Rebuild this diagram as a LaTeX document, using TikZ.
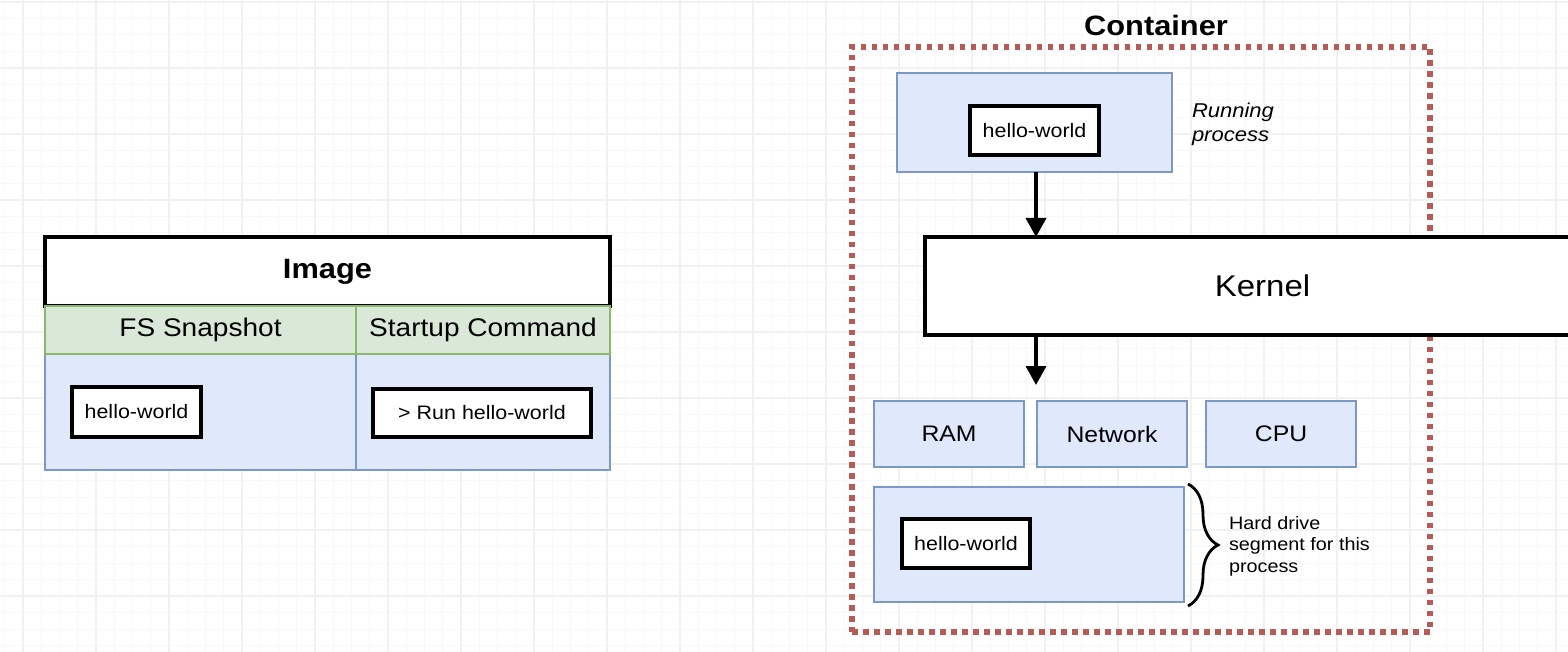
\documentclass[tikz,border=0pt]{standalone}
\usepackage{fontspec}
\setmainfont{Liberation Sans}[FakeStretch=1.1]
\usetikzlibrary{arrows.meta,decorations.pathreplacing}
\definecolor{bluefill}{HTML}{E0E9FC}
\definecolor{bluedraw}{HTML}{7C98C6}
\definecolor{greenfill}{HTML}{DAE8D7}
\definecolor{greendraw}{HTML}{8CB86E}
\definecolor{reddash}{HTML}{B85B57}
\definecolor{gridmajor}{HTML}{F1F1F1}
\definecolor{gridminor}{HTML}{F8F8F8}
\newcommand{\fsz}[1]{\fontsize{#1}{#1}\selectfont}
\tikzset{
  box/.style={rectangle, inner sep=0pt, outer sep=0pt, align=center},
  blackbox/.style={box, draw=black, line width=3.3pt, fill=white},
  bluebox/.style={box, draw=bluedraw, line width=2.8pt, fill=bluefill},
  greenbox/.style={box, draw=greendraw, line width=2.8pt, fill=greenfill},
  dashbox/.style={box, draw=reddash, line width=5.5pt, dash pattern=on 5.5pt off 5.5pt},
  arr/.style={line width=3.5pt, -{Triangle[width=20pt,length=19pt]}},
  bracestyle/.style={line width=2.8pt, decorate, decoration={brace, amplitude=30pt}},
}
\begin{document}
\begin{tikzpicture}[x=1pt,y=-1pt]
\clip (0,0) rectangle (1568,652);
\fill[white] (0,0) rectangle (1568,652);
% grid
\foreach \k in {0,...,86} {\pgfmathsetmacro\xx{4.75+18.25*\k}\draw[gridminor, line width=1pt] (\xx,0) -- (\xx,652);}
\foreach \k in {0,...,40} {\pgfmathsetmacro\yy{2+16.5*\k}\draw[gridminor, line width=1pt] (0,\yy) -- (1568,\yy);}
\foreach \k in {0,...,22} {\pgfmathsetmacro\xx{23+73*\k}\draw[gridmajor, line width=1.2pt] (\xx,0) -- (\xx,652);}
\foreach \k in {0,...,10} {\pgfmathsetmacro\yy{2+66*\k}\draw[gridmajor, line width=1.2pt] (0,\yy) -- (1568,\yy);}

% ---- Image ----
\node[blackbox, minimum width=565, minimum height=69, font=\fsz{28}\bfseries] (imghead) at (327.5,271.5) {Image};
\node[bluebox, minimum width=311, minimum height=116] (fsbody) at (200.5,412) {};
\node[bluebox, minimum width=254, minimum height=116] (scbody) at (483,412) {};
\node[greenbox, minimum width=311, minimum height=48, font=\fsz{25.5}] (fs) at (200.5,330) {FS Snapshot};
\node[greenbox, minimum width=254, minimum height=48, font=\fsz{25.5}] (sc) at (483,330) {Startup Command};
\node[blackbox, minimum width=129, minimum height=50, font=\fsz{19.5}] (hw0) at (136.5,412) {hello-world};
\node[blackbox, minimum width=218, minimum height=48, font=\fsz{19.5}] (runcmd) at (482,413) {> Run hello-world};

% ---- Container ----
\node[dashbox, minimum width=578, minimum height=585] (cont) at (1141,339.5) {};
\node[box, font=\fsz{28}\bfseries] (conttitle) at (1156,25) {Container};
\node[bluebox, minimum width=275, minimum height=99] (proc) at (1034.5,122.5) {};
\node[blackbox, minimum width=129, minimum height=49, font=\fsz{19.5}] (hw1) at (1034.5,130.5) {hello-world};
\node[box, anchor=west, align=left, font=\fontsize{20}{24}\selectfont\itshape] (proclabel) at (1192,124) {Running\\process};
\node[blackbox, minimum width=675, minimum height=98, font=\fsz{30}] (kernel) at (1262.5,286) {Kernel};
\coordinate (a2end) at (1036,385);
\draw[arr] (proc.south -| a2end) -- (a2end |- kernel.north);
\draw[arr] (a2end |- kernel.south) -- (a2end);
\node[bluebox, minimum width=150, minimum height=66, font=\fsz{22.5}] (ram) at (949,434) {RAM};
\node[bluebox, minimum width=150, minimum height=66, font=\fsz{22.5}] (net) at (1112,434) {Network};
\node[bluebox, minimum width=150, minimum height=66, font=\fsz{22.5}] (cpu) at (1281,434) {CPU};
\node[bluebox, minimum width=310, minimum height=115] (hd) at (1029,544.5) {};
\node[blackbox, minimum width=128, minimum height=49, font=\fsz{19.5}] (hw2) at (966,543.5) {hello-world};
\coordinate (bt) at (1188,484);
\coordinate (bb) at (1188,606);
\draw[bracestyle] (bt) -- (bb);
\node[box, anchor=west, align=left, font=\fontsize{18}{21.5}\selectfont] (hdlabel) at (1229,546) {Hard drive\\segment for this\\process};
\end{tikzpicture}
\end{document}
